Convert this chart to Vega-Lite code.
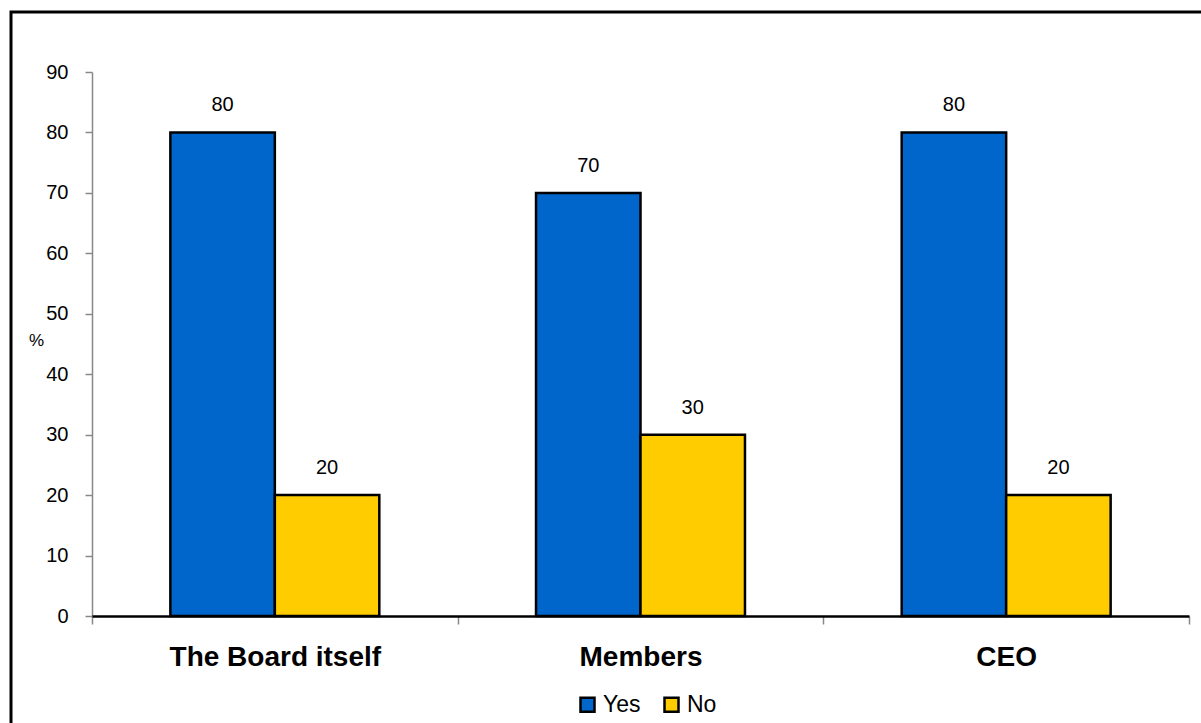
{
  "$schema": "https://vega.github.io/schema/vega-lite/v6.json",
  "width": 1200,
  "height": 720,
  "autosize": {"type": "none"},
  "padding": {"left": 11, "top": 12, "right": 0, "bottom": 0},
  "background": "white",
  "config": {
    "font": "Liberation Sans",
    "view": {"stroke": "black", "strokeWidth": 3},
    "axis": {"grid": false, "labelColor": "black", "titleColor": "black"}
  },
  "data": {
    "values": [
      {"category": "The Board itself", "answer": "Yes", "pct": 80},
      {"category": "The Board itself", "answer": "No", "pct": 20},
      {"category": "Members", "answer": "Yes", "pct": 70},
      {"category": "Members", "answer": "No", "pct": 30},
      {"category": "CEO", "answer": "Yes", "pct": 80},
      {"category": "CEO", "answer": "No", "pct": 20}
    ]
  },
  "encoding": {
    "x": {
      "field": "category",
      "type": "nominal",
      "sort": ["The Board itself", "Members", "CEO"],
      "scale": {"range": [81, 1178], "paddingInner": 0, "paddingOuter": 0},
      "axis": {
        "title": null,
        "orient": "bottom",
        "offset": -116,
        "labelAngle": 0,
        "labelFontSize": 28,
        "labelFontWeight": "bold",
        "labelLimit": 0,
        "labelPadding": 19,
        "domainColor": "black",
        "domainWidth": 2.5,
        "tickColor": "#888888",
        "tickSize": 8,
        "tickWidth": 1.5,
        "tickBand": "extent",
        "zindex": 1
      }
    },
    "xOffset": {
      "field": "answer",
      "type": "nominal",
      "sort": ["Yes", "No"],
      "scale": {"paddingOuter": 0.75, "paddingInner": 0}
    },
    "y": {
      "field": "pct",
      "type": "quantitative",
      "scale": {"domain": [0, 90], "range": [604, 60], "nice": false},
      "axis": {
        "title": "%",
        "orient": "left",
        "offset": -81,
        "values": [0, 10, 20, 30, 40, 50, 60, 70, 80, 90],
        "labelFontSize": 20,
        "labelPadding": 17,
        "domainColor": "#888888",
        "domainWidth": 1.5,
        "tickColor": "#888888",
        "tickSize": 7,
        "tickWidth": 1.5,
        "titleAngle": 0,
        "titleFontSize": 17,
        "titleFontWeight": "normal",
        "titleAlign": "center",
        "titleBaseline": "middle",
        "titleX": -56,
        "titleY": 328
      }
    }
  },
  "layer": [
    {
      "mark": {"type": "bar", "stroke": "black", "strokeWidth": 2.5},
      "encoding": {
        "color": {
          "field": "answer",
          "type": "nominal",
          "scale": {"domain": ["Yes", "No"], "range": ["#0066CC", "#FFCC00"]},
          "legend": {
            "title": null,
            "orient": "none",
            "direction": "horizontal",
            "legendX": 565,
            "legendY": 681,
            "symbolType": "square",
            "symbolSize": 196,
            "symbolStrokeColor": "black",
            "symbolStrokeWidth": 2.5,
            "labelFontSize": 23,
            "labelColor": "black",
            "labelOffset": 4,
            "columnPadding": 18
          }
        }
      }
    },
    {
      "mark": {"type": "text", "baseline": "alphabetic", "dy": -21, "fontSize": 20, "color": "black"},
      "encoding": {"text": {"field": "pct", "type": "quantitative"}}
    }
  ]
}
